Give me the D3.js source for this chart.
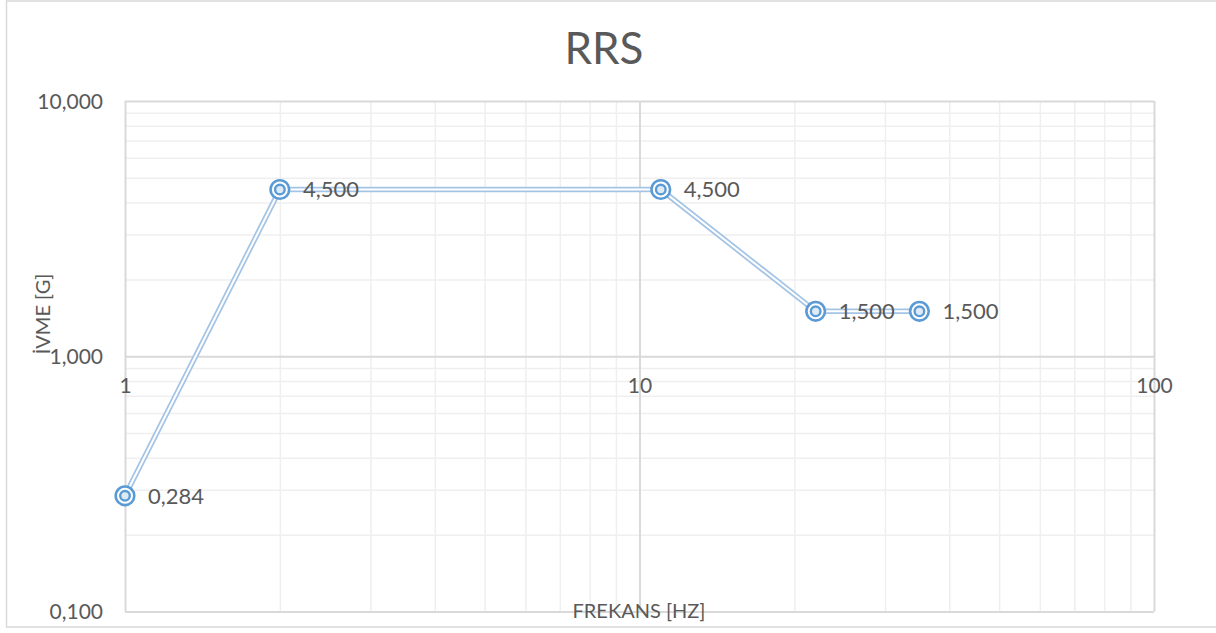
<!DOCTYPE html>
<html>
<head>
<meta charset="utf-8">
<script src="https://cdn.jsdelivr.net/npm/d3@7"></script>
<style>
  html, body { margin: 0; padding: 0; background: #fff; }
  svg { display: block; }
  text { font-family: Lato, "Open Sans", sans-serif; fill: #595959; }
</style>
</head>
<body>
<svg id="chart" width="1216" height="633"></svg>
<script>
// ---- data ----
const chartTitle = "RRS";
const xTitle = "FREKANS [HZ]";
const yTitle = "İVME [G]";
const frequencies = [1, 2, 11, 22, 35];
const accelerations = [0.284, 4.5, 4.5, 1.5, 1.5];
const xTickValues = [1, 10, 100];
const yTickValues = [0.1, 1, 10];
const xDomain = [1, 100];
const yDomain = [0.1, 10];

// ---- layout ----
const W = 1216, H = 633;
const plot = { left: 125, right: 1154, top: 101, bottom: 611.5 };
const svg = d3.select("#chart");

const trLocale = d3.formatLocale({ decimal: ",", thousands: ".", grouping: [3], currency: ["", "₺"] });
const fmt3 = trLocale.format(".3f");

const x = d3.scaleLog().domain(xDomain).range([plot.left, plot.right]);
const y = d3.scaleLog().domain(yDomain).range([plot.bottom, plot.top]);

// outer chart border
svg.append("rect")
  .attr("x", 6.5).attr("y", 1).attr("width", W).attr("height", 626)
  .attr("fill", "#fff").attr("stroke", "#d9d9d9").attr("stroke-width", 1.5);

// minor ticks
function minorTicks(domain) {
  const out = [];
  for (let d = domain[0]; d < domain[1] - 1e-9; d *= 10)
    for (let k = 2; k <= 9; k++) out.push(d * k);
  return out;
}
const gridMinor = "#efefef", gridMajor = "#d9d9d9";

// minor grid
svg.append("g").attr("transform", `translate(0,${plot.bottom})`)
  .call(d3.axisBottom(x).tickValues(minorTicks(xDomain)).tickSize(-(plot.bottom - plot.top)).tickFormat(""))
  .call(g => g.select(".domain").remove())
  .call(g => g.selectAll("line").attr("stroke", gridMinor).attr("stroke-width", 1.5));
svg.append("g").attr("transform", `translate(${plot.left},0)`)
  .call(d3.axisLeft(y).tickValues(minorTicks(yDomain)).tickSize(-(plot.right - plot.left)).tickFormat(""))
  .call(g => g.select(".domain").remove())
  .call(g => g.selectAll("line").attr("stroke", gridMinor).attr("stroke-width", 1.5));

// major grid
svg.append("g").attr("transform", `translate(0,${plot.bottom})`)
  .call(d3.axisBottom(x).tickValues(xTickValues).tickSize(-(plot.bottom - plot.top)).tickFormat(""))
  .call(g => g.select(".domain").remove())
  .call(g => g.selectAll("line").attr("stroke", gridMajor).attr("stroke-width", 2));
svg.append("g").attr("transform", `translate(${plot.left},0)`)
  .call(d3.axisLeft(y).tickValues(yTickValues).tickSize(-(plot.right - plot.left)).tickFormat(""))
  .call(g => g.select(".domain").remove())
  .call(g => g.selectAll("line").attr("stroke", gridMajor).attr("stroke-width", 2));

// y axis labels
svg.append("g").attr("transform", `translate(${plot.left},0)`)
  .call(d3.axisLeft(y).tickValues(yTickValues).tickSize(0).tickPadding(22).tickFormat(fmt3))
  .call(g => g.select(".domain").remove())
  .call(g => g.selectAll("text").attr("font-size", 21).style("fill", "#595959").attr("dy", "0.35em"));

// x axis labels (axis crosses at y = 1)
svg.append("g").attr("transform", `translate(0,${y(1)})`)
  .call(d3.axisBottom(x).tickValues(xTickValues).tickSize(0).tickPadding(22).tickFormat(d3.format("d")))
  .call(g => g.select(".domain").remove())
  .call(g => g.selectAll("text").attr("font-size", 21).style("fill", "#595959"));

// title
svg.append("text").attr("x", 604).attr("y", 64).attr("text-anchor", "middle")
  .attr("font-size", 44).text(chartTitle);

// axis titles
svg.append("text").attr("x", 639).attr("y", 618).attr("text-anchor", "middle")
  .attr("font-size", 20).text(xTitle);
svg.append("text").attr("transform", "translate(50,314) rotate(-90)").attr("text-anchor", "middle")
  .attr("font-size", 20).text(yTitle);

// series line (double/compound line)
const pts = frequencies.map((f, i) => [f, accelerations[i]]);
const line = d3.line().x(d => x(d[0])).y(d => y(d[1]));
svg.append("path").datum(pts).attr("d", line)
  .attr("fill", "none").attr("stroke", "#a4c4e6").attr("stroke-width", 5.5).attr("stroke-linejoin", "miter");
svg.append("path").datum(pts).attr("d", line)
  .attr("fill", "none").attr("stroke", "#ffffff").attr("stroke-width", 2).attr("stroke-linejoin", "miter");

// markers
const mk = svg.append("g").selectAll("g").data(pts).join("g")
  .attr("transform", d => `translate(${x(d[0])},${y(d[1])})`);
mk.append("circle").attr("r", 9.3).attr("fill", "#fff").attr("stroke", "#5b9bd5").attr("stroke-width", 2.6);
mk.append("circle").attr("r", 4.8).attr("fill", "#deebf7").attr("stroke", "#5b9bd5").attr("stroke-width", 2.4);

// data labels
svg.append("g").selectAll("text").data(pts).join("text")
  .attr("x", d => x(d[0]) + 23).attr("y", d => y(d[1])).attr("dy", "0.36em")
  .attr("font-size", 22).text(d => fmt3(d[1]));
</script>
</body>
</html>
